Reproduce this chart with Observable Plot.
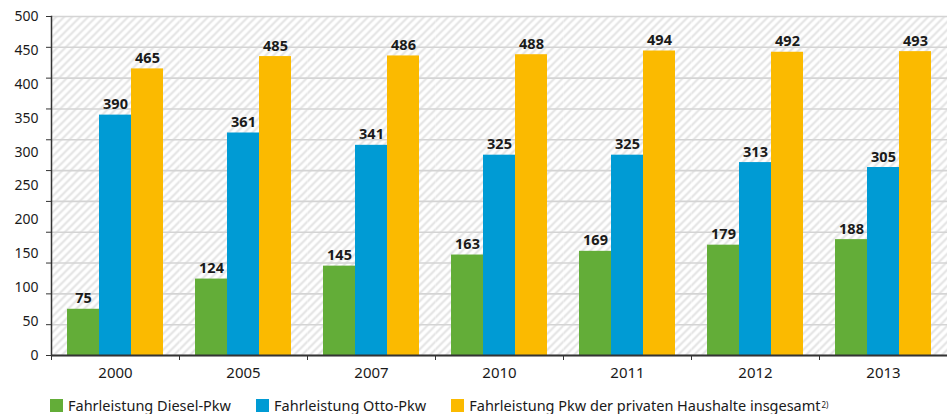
<!DOCTYPE html>
<html>
<head>
<meta charset="utf-8">
<script src="https://cdn.jsdelivr.net/npm/d3@7"></script>
<script src="https://cdn.jsdelivr.net/npm/@observablehq/plot@0.6"></script>
<style>
  html, body { margin: 0; padding: 0; background: #fff; }
  body { font-family: "Noto Sans", "Open Sans", sans-serif; width: 947px; }
  #chart svg { display: block; }
  #legend { display: flex; align-items: center; padding-left: 50px; margin-top: 4px; height: 18px; line-height: 18px; font-size: 14.5px; color: #1a1a1a; }
  #legend .item { display: flex; align-items: center; margin-right: 25px; }
  #legend .sw { width: 13px; height: 13px; margin-right: 5px; display: inline-block; }
  #legend sup { font-size: 8px; line-height: 8px; vertical-align: 6px; margin-left: 1px; }
</style>
</head>
<body>
<svg width="0" height="0" style="position:absolute">
  <defs>
    <pattern id="hatch" patternUnits="userSpaceOnUse" width="8" height="8">
      <rect width="8" height="8" fill="#ffffff"></rect>
      <path d="M-2,2 L2,-2 M0,8 L8,0 M6,10 L10,6" stroke="#e3e3e3" stroke-width="2"></path>
    </pattern>
  </defs>
</svg>
<div id="chart"></div>
<div id="legend"></div>
<script>
const years = ["2000", "2005", "2007", "2010", "2011", "2012", "2013"];
const diesel = [75, 124, 145, 163, 169, 179, 188];
const otto = [390, 361, 341, 325, 325, 313, 305];
const total = [465, 485, 486, 488, 494, 492, 493];
const seriesNames = ["Fahrleistung Diesel-Pkw", "Fahrleistung Otto-Pkw", "Fahrleistung Pkw der privaten Haushalte insgesamt"];
const seriesColors = ["#63ad38", "#009bd4", "#fbba00"];
const yLabels = ["0", "50", "100", "150", "200", "250", "300", "350", "400", "450", "500"];
const yMax = 550;
const gridTicks = d3.range(0, yMax + 1, 50);

const data = [];
years.forEach((year, i) => {
  [diesel, otto, total].forEach((arr, s) => {
    data.push({year, series: seriesNames[s], value: arr[i]});
  });
});

const labelValues = yLabels.map((_, i) => i * yMax / (yLabels.length - 1));

const chart = Plot.plot({
  width: 947,
  height: 392,
  marginLeft: 51,
  marginRight: 0,
  marginTop: 16,
  marginBottom: 37,
  style: {fontFamily: "'Noto Sans', 'Open Sans', sans-serif", color: "#1a1a1a", background: "#fff"},
  fx: {domain: years, paddingInner: 0, paddingOuter: 0, label: null},
  x: {domain: seriesNames, paddingInner: 0, paddingOuter: 0.459, axis: null},
  y: {domain: [0, yMax], label: null},
  color: {domain: seriesNames, range: seriesColors},
  marks: [
    Plot.frame({fill: "url(#hatch)", stroke: null}),
    Plot.gridY({ticks: gridTicks, stroke: "#d4d4d4", strokeOpacity: 1, strokeWidth: 1.6}),
    Plot.barY(data, {fx: "year", x: "series", y: "value", fill: "series"}),
    Plot.text(data, {fx: "year", x: "series", y: "value", text: d => String(d.value), dy: -6, lineAnchor: "bottom", fontWeight: "bold", fontSize: 14.5, fill: "#1a1a1a"}),
    Plot.ruleY([0], {stroke: "#333", strokeWidth: 2}),
    Plot.frame({anchor: "left", facetAnchor: "left", stroke: "#333", strokeWidth: 1.5}),
    Plot.axisY({ticks: gridTicks, tickFormat: () => "", tickSize: 5, stroke: "#333", label: null}),
    Plot.axisY({ticks: labelValues, tickFormat: d => yLabels[Math.round(d / (yMax / (yLabels.length - 1)))], tickSize: 0, tickPadding: 13, fontSize: 14, label: null}),
    Plot.axisFx({anchor: "bottom", tickSize: 0, tickPadding: 12, fontSize: 15, label: null}),
    Plot.axisFx({anchor: "bottom", tickSize: 5, tickFormat: () => "", dx: -64, stroke: "#333", label: null})
  ]
});
document.getElementById("chart").appendChild(chart);

const legend = document.getElementById("legend");
seriesNames.forEach((name, i) => {
  const item = document.createElement("div");
  item.className = "item";
  const sw = document.createElement("span");
  sw.className = "sw";
  sw.style.background = seriesColors[i];
  item.appendChild(sw);
  const t = document.createElement("span");
  t.textContent = name;
  item.appendChild(t);
  if (i === 2) {
    const sup = document.createElement("sup");
    sup.textContent = "2)";
    item.appendChild(sup);
  }
  legend.appendChild(item);
});
</script>
</body>
</html>
